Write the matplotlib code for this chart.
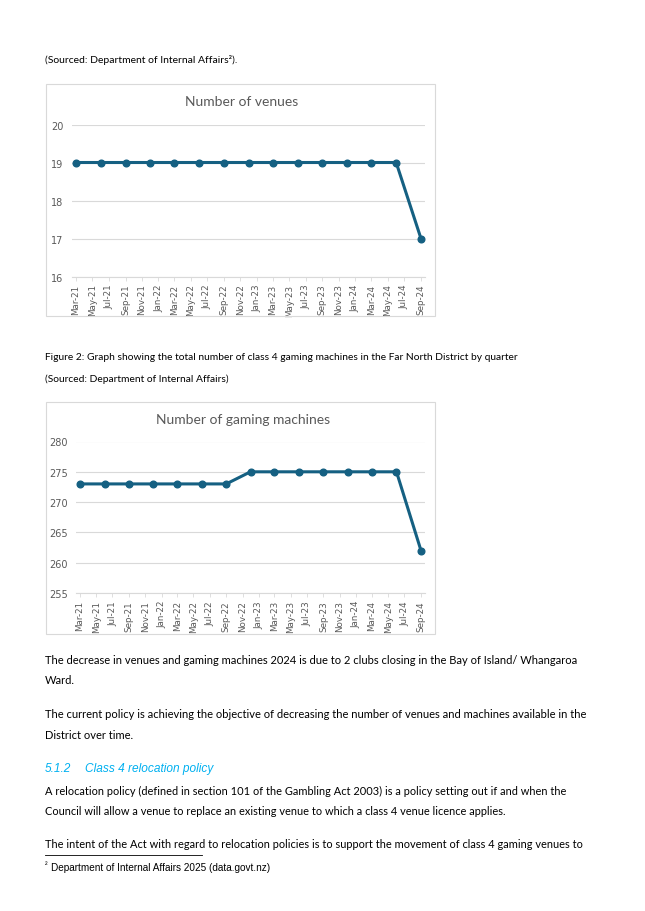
import pandas as pd
import matplotlib
matplotlib.use('Agg')
import matplotlib.pyplot as plt
import matplotlib.dates as mdates
from matplotlib.patches import Rectangle
from matplotlib.lines import Line2D

# data (quarterly)
quarters = ['2021-03-01', '2021-06-01', '2021-09-01', '2021-12-01',
            '2022-03-01', '2022-06-01', '2022-09-01', '2022-12-01',
            '2023-03-01', '2023-06-01', '2023-09-01', '2023-12-01',
            '2024-03-01', '2024-06-01', '2024-09-01']
venues = [19, 19, 19, 19, 19, 19, 19, 19, 19, 19, 19, 19, 19, 19, 17]
machines = [273, 273, 273, 273, 273, 273, 273, 275, 275, 275, 275, 275, 275, 275, 262]

dates = pd.to_datetime(quarters)

W, H = 645, 912
LINE = '#156082'
GRID = '#D9D9D9'
GREY = '#595959'
BODY = 'Lato'

fig = plt.figure(figsize=(W / 100, H / 100), dpi=100)


def px_box(x0, y0, x1, y1):
    # pixel box (top-left origin) -> figure fraction rect
    return [x0 / W, 1 - y1 / H, (x1 - x0) / W, (y1 - y0) / H]


def txt(x, y, s, **kw):
    kw.setdefault('fontsize', 8.0)
    kw.setdefault('family', BODY)
    kw.setdefault('color', '#000000')
    fig.text(x / W, 1 - y / H, s, va='center', ha='left', **kw)


def chart(box, area, values, ylim, yticks, title):
    # chart frame
    fig.patches.append(Rectangle((box[0] / W, 1 - box[3] / H),
                                 (box[2] - box[0]) / W, (box[3] - box[1]) / H,
                                 transform=fig.transFigure, fill=False,
                                 edgecolor=GRID, linewidth=0.8))
    ax = fig.add_axes(px_box(*area))
    ax.plot(dates, values, color=LINE, linewidth=2.2, marker='o',
            markersize=4.8, clip_on=False, zorder=3)
    ax.set_ylim(*ylim)
    ax.set_yticks(yticks)
    ax.set_xlim(dates[0] - pd.Timedelta(days=15), dates[-1] + pd.Timedelta(days=15))
    ax.xaxis.set_major_locator(mdates.MonthLocator(bymonth=[1, 3, 5, 7, 9, 11]))
    ax.xaxis.set_major_formatter(mdates.DateFormatter('%b-%y'))
    for lab in ax.get_xticklabels():
        lab.set_rotation(90)
    ax.tick_params(axis='x', labelsize=6.3, colors=GREY, length=3, width=0.6,
                   color=GRID, pad=2)
    ax.tick_params(axis='y', labelsize=7, colors=GREY, length=0, pad=6)
    ax.grid(axis='y', color=GRID, linewidth=0.8)
    ax.set_axisbelow(True)
    for s in ['top', 'right', 'left']:
        ax.spines[s].set_visible(False)
    ax.spines['bottom'].set_color(GRID)
    ax.spines['bottom'].set_linewidth(0.8)
    cx = (area[0] + area[2]) / 2 / W
    fig.text(cx - 7 / W, 1 - (box[1] + 17) / H, title, ha='center', va='center',
             fontsize=10, color=GREY, family='Lato')
    return ax


txt(45, 60, '(Sourced: Department of Internal Affairs\u00b2).', fontsize=7.5)

chart((46, 85, 435, 317), (72, 125.5, 425, 277.5), venues, (16, 20),
      [16, 17, 18, 19, 20], 'Number of venues')

txt(45, 358, 'Figure 2: Graph showing the total number of class 4 gaming machines in the Far North District by quarter',
    fontsize=7.4)
txt(45, 379, '(Sourced: Department of Internal Affairs)', fontsize=7.4)

chart((46, 403, 435, 635), (76, 442.5, 425, 594), machines, (255, 280),
      [255, 260, 265, 270, 275, 280], 'Number of gaming machines')

txt(45, 660, 'The decrease in venues and gaming machines 2024 is due to 2 clubs closing in the Bay of Island/ Whangaroa')
txt(45, 681, 'Ward.')
txt(45, 715, 'The current policy is achieving the objective of decreasing the number of venues and machines available in the')
txt(45, 736, 'District over time.')
txt(45, 769, '5.1.2', family='Liberation Sans', style='italic', color='#00B0F0', fontsize=8.6)
txt(85, 769, 'Class 4 relocation policy', family='Liberation Sans', style='italic',
    color='#00B0F0', fontsize=8.6)
txt(45, 791, 'A relocation policy (defined in section 101 of the Gambling Act 2003) is a policy setting out if and when the',
    fontsize=7.9)
txt(45, 812, 'Council will allow a venue to replace an existing venue to which a class 4 venue licence applies.',
    fontsize=7.9)
txt(45, 845, 'The intent of the Act with regard to relocation policies is to support the movement of class 4 gaming venues to',
    fontsize=7.9)

fig.lines.append(Line2D([45 / W, 202 / W], [1 - 856 / H, 1 - 856 / H],
                        transform=fig.transFigure, color='black', linewidth=0.6))
txt(45, 866, '\u00b2', family='Liberation Sans', fontsize=5.5)
txt(51, 868, 'Department of Internal Affairs 2025 (data.govt.nz)',
    family='Liberation Sans', fontsize=7.2)

fig.savefig('out.png', dpi=100)
